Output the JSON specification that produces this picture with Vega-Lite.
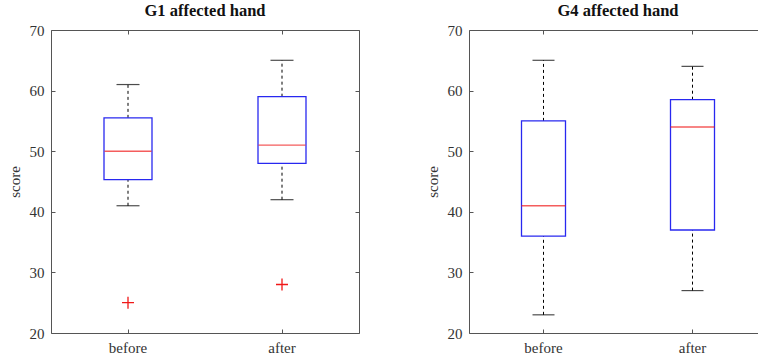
{
  "$schema": "https://vega.github.io/schema/vega-lite/v6.json",
  "background": "white",
  "padding": {"left": 6, "top": 2, "right": 0, "bottom": 0},
  "spacing": 110,
  "bounds": "flush",
  "data": {"values": [
    {"panel": "G1", "cat": "before", "lo": 41, "q1": 45.3, "med": 50, "q3": 55.5, "hi": 61, "out": 25},
    {"panel": "G1", "cat": "after", "lo": 42, "q1": 48, "med": 51, "q3": 59, "hi": 65, "out": 28},
    {"panel": "G4", "cat": "before", "lo": 23, "q1": 36, "med": 41, "q3": 55, "hi": 65, "out": null},
    {"panel": "G4", "cat": "after", "lo": 27, "q1": 37, "med": 54, "q3": 58.5, "hi": 64, "out": null}
  ]},
  "config": {
    "view": {"stroke": "#555555", "strokeWidth": 1},
    "font": "Liberation Serif",
    "axis": {"labelFont": "Liberation Serif", "labelFontSize": 15, "labelColor": "#333333", "titleFont": "Liberation Serif", "titleFontSize": 15, "titleFontWeight": "normal", "titleColor": "#333333", "grid": false, "domain": false, "tickColor": "#555555", "tickSize": -4, "tickWidth": 1},
    "title": {"font": "Liberation Serif", "fontSize": 16.5, "fontWeight": "bold", "color": "#111111", "offset": 4}
  },
  "hconcat": [
    {
      "width": 308, "height": 303,
      "title": "G1 affected hand",
      "transform": [{"filter": "datum.panel === 'G1'"}],
      "encoding": {"x": {"field": "cat", "type": "nominal", "sort": ["before", "after"], "scale": {"paddingInner": 0, "paddingOuter": 0}, "axis": null}},
      "layer": [
        {"mark": {"type": "rule", "color": "black", "strokeDash": [3, 3], "strokeWidth": 1},
         "encoding": {"x": {"field": "cat", "type": "nominal", "sort": ["before", "after"], "axis": {"orient": "bottom", "labelAngle": 0, "labelPadding": 11, "title": null}},
           "y": {"field": "lo", "type": "quantitative", "scale": {"domain": [20, 70], "nice": false, "zero": false}, "axis": {"orient": "left", "values": [20, 30, 40, 50, 60, 70], "title": "score", "labelPadding": 11, "titlePadding": 7}}, "y2": {"field": "q1"}}},
        {"mark": {"type": "rule", "color": "black", "strokeDash": [3, 3], "strokeWidth": 1},
         "encoding": {"x": {"field": "cat", "type": "nominal", "sort": ["before", "after"], "axis": {"orient": "top", "labels": false, "title": null}},
           "y": {"field": "q3", "type": "quantitative", "axis": {"orient": "right", "values": [20, 30, 40, 50, 60, 70], "labels": false, "title": null}}, "y2": {"field": "hi"}}},
        {"mark": {"type": "tick", "color": "black", "size": 23, "thickness": 1.2},
         "encoding": {"y": {"field": "hi", "type": "quantitative", "axis": null}}},
        {"mark": {"type": "tick", "color": "black", "size": 23, "thickness": 1.2},
         "encoding": {"y": {"field": "lo", "type": "quantitative", "axis": null}}},
        {"mark": {"type": "bar", "stroke": "#2828f0", "strokeWidth": 1.3, "fill": "white", "fillOpacity": 0, "width": 48},
         "encoding": {"y": {"field": "q1", "type": "quantitative", "axis": null}, "y2": {"field": "q3"}}},
        {"mark": {"type": "tick", "color": "#f01818", "size": 47, "thickness": 1.4},
         "encoding": {"y": {"field": "med", "type": "quantitative", "axis": null}}},
        {"mark": {"type": "point", "shape": "M-1,0H1M0,-1V1", "size": 144, "stroke": "#f01818", "strokeWidth": 1.3, "filled": false, "opacity": 1},
         "encoding": {"y": {"field": "out", "type": "quantitative", "axis": null}}}
      ]
    },
    {
      "width": 298, "height": 303,
      "title": "G4 affected hand",
      "transform": [{"filter": "datum.panel === 'G4'"}],
      "encoding": {"x": {"field": "cat", "type": "nominal", "sort": ["before", "after"], "scale": {"paddingInner": 0, "paddingOuter": 0}, "axis": null}},
      "layer": [
        {"mark": {"type": "rule", "color": "black", "strokeDash": [3, 3], "strokeWidth": 1},
         "encoding": {"x": {"field": "cat", "type": "nominal", "sort": ["before", "after"], "axis": {"orient": "bottom", "labelAngle": 0, "labelPadding": 11, "title": null}},
           "y": {"field": "lo", "type": "quantitative", "scale": {"domain": [20, 70], "nice": false, "zero": false}, "axis": {"orient": "left", "values": [20, 30, 40, 50, 60, 70], "title": "score", "labelPadding": 11, "titlePadding": 7}}, "y2": {"field": "q1"}}},
        {"mark": {"type": "rule", "color": "black", "strokeDash": [3, 3], "strokeWidth": 1},
         "encoding": {"x": {"field": "cat", "type": "nominal", "sort": ["before", "after"], "axis": {"orient": "top", "labels": false, "title": null}},
           "y": {"field": "q3", "type": "quantitative", "axis": {"orient": "right", "values": [20, 30, 40, 50, 60, 70], "labels": false, "title": null}}, "y2": {"field": "hi"}}},
        {"mark": {"type": "tick", "color": "black", "size": 22, "thickness": 1.2},
         "encoding": {"y": {"field": "hi", "type": "quantitative", "axis": null}}},
        {"mark": {"type": "tick", "color": "black", "size": 22, "thickness": 1.2},
         "encoding": {"y": {"field": "lo", "type": "quantitative", "axis": null}}},
        {"mark": {"type": "bar", "stroke": "#2828f0", "strokeWidth": 1.3, "fill": "white", "fillOpacity": 0, "width": 44},
         "encoding": {"y": {"field": "q1", "type": "quantitative", "axis": null}, "y2": {"field": "q3"}}},
        {"mark": {"type": "tick", "color": "#f01818", "size": 44, "thickness": 1.4},
         "encoding": {"y": {"field": "med", "type": "quantitative", "axis": null}}}
      ]
    }
  ]
}
